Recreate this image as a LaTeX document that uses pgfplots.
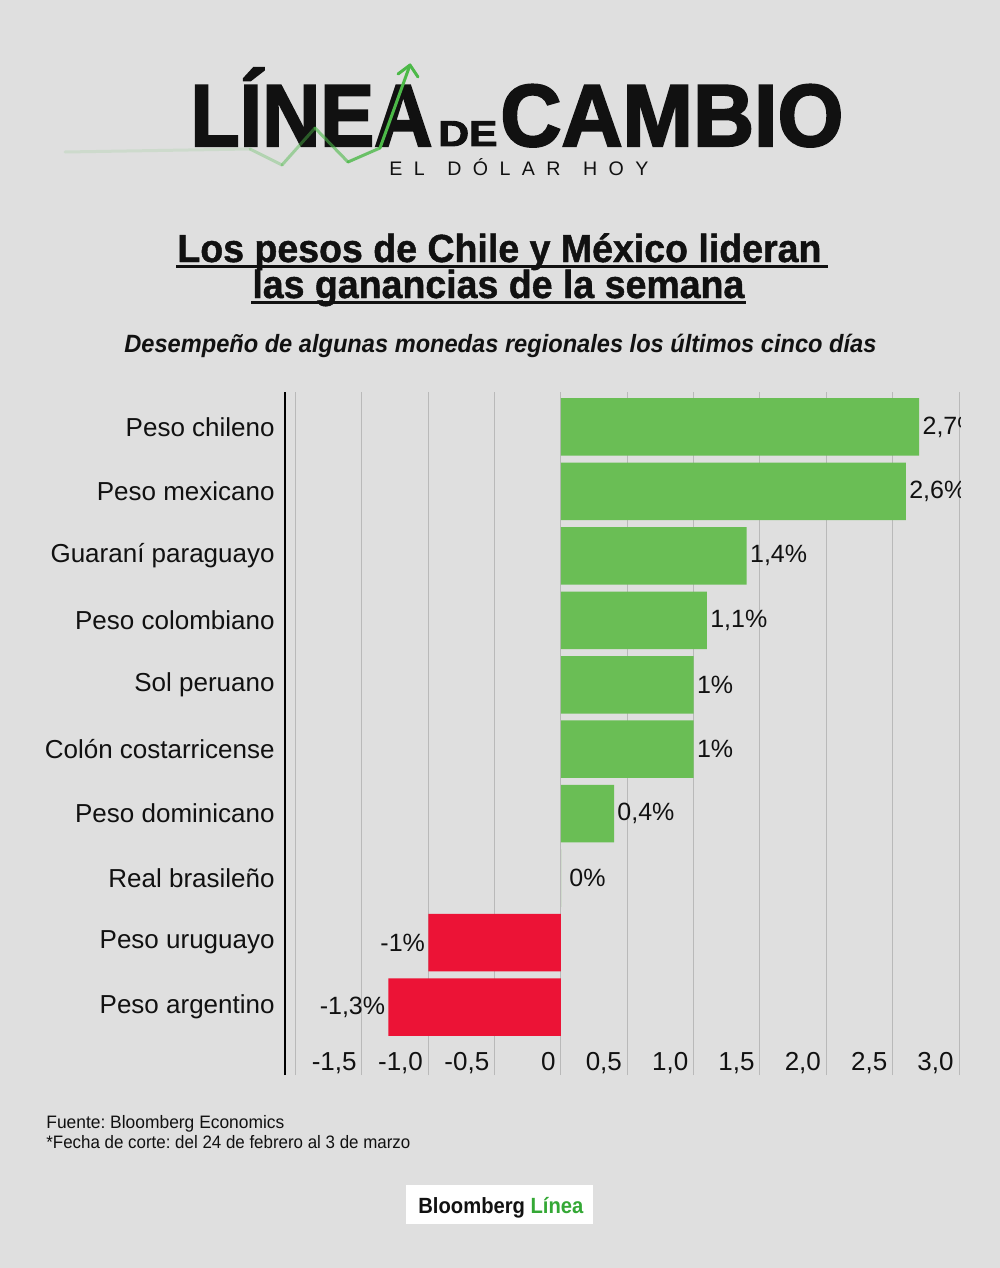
\documentclass[border=0pt]{standalone}
\usepackage{pgfplots}
\pgfplotsset{compat=1.18}
\usepackage{pgfplotstable}
\usepackage{fontspec}
\usepackage{graphicx}
\setmainfont{Liberation Sans}
\newfontfamily\heavy{Liberation Sans}[BoldFeatures={FakeBold=2.5}]
\newfontfamily\titlef{Liberation Sans}[BoldFeatures={FakeBold=1.2}]
\definecolor{bg}{RGB}{223,223,223}
\definecolor{barg}{RGB}{106,190,85}
\definecolor{barr}{RGB}{236,19,54}
\definecolor{gridc}{RGB}{185,185,185}
\definecolor{lgreen}{RGB}{76,185,72}
\definecolor{bgreen}{RGB}{52,168,53}
\definecolor{ink}{RGB}{17,17,17}
\newcommand\fw[2]{\resizebox{#1}{\height}{#2}}
\frenchspacing

\pgfplotstableread{
idx val lab
9 2.7 {2,7\%}
8 2.6 {2,6\%}
7 1.4 {1,4\%}
6 1.1 {1,1\%}
5 1.0 {1\%}
4 1.0 {1\%}
3 0.4 {0,4\%}
}\posdata
\pgfplotstableread{
idx val lab
2 0 {0\%}
}\zerodata
\pgfplotstableread{
idx val lab
1 -1.0 {-1\%}
0 -1.3 {-1,3\%}
}\negdata

\begin{document}
\begin{tikzpicture}
\begin{scope}[x=0.5pt,y=-0.5pt]
\fill[bg] (0,0) rectangle (1000,1268);
\useasboundingbox (0,0) rectangle (1000,1268);
% logo
\node[anchor=base west, inner sep=0, text=ink] at (190,146) {\fw{121pt}{\heavy\bfseries\fontsize{44}{44}\selectfont LÍNEA}};
\node[anchor=base west, inner sep=0, text=ink] at (438,146) {\fw{29.5pt}{\heavy\bfseries\fontsize{18}{18}\selectfont DE}};
\node[anchor=base west, inner sep=0, text=ink] at (500,146) {\fw{171.5pt}{\heavy\bfseries\fontsize{44}{44}\selectfont CAMBIO}};
\node[anchor=base west, inner sep=0, text=ink] at (389,175) {\makebox[129.5pt][s]{\fontsize{9.8}{10}\selectfont E\hfill L\hfill\hfill D\hfill Ó\hfill L\hfill A\hfill R\hfill\hfill H\hfill O\hfill Y}};
\draw[lgreen, line width=1.5pt, opacity=0.12, line cap=round] (65,152)--(250,149);
\draw[lgreen, line width=1.5pt, opacity=0.3, line cap=round] (250,149)--(282,165);
\draw[lgreen, line width=1.5pt, opacity=0.45, line cap=round] (282,165)--(315,128);
\draw[lgreen, line width=1.5pt, opacity=0.6, line cap=round] (315,128)--(348,162);
\draw[lgreen, line width=1.5pt, opacity=0.8, line cap=round] (348,162)--(380,148);
\draw[lgreen, line width=1.5pt, line cap=round] (380,148)--(410,65);
\draw[lgreen, line width=1.5pt, line cap=round, line join=round] (398,74)--(410,65)--(418,77);
% title
\node[anchor=base west, inner sep=0, text=ink] at (177,262) {\fw{322pt}{\titlef\bfseries\fontsize{19.6}{20}\selectfont Los pesos de Chile y México lideran}};
\fill[ink] (176,264.5) rectangle (828,267.5);
\node[anchor=base west, inner sep=0, text=ink] at (252,298) {\fw{246pt}{\titlef\bfseries\fontsize{19.6}{20}\selectfont las ganancias de la semana}};
\fill[ink] (251,300.8) rectangle (746,303.8);
\node[anchor=base west, inner sep=0, text=ink] at (124,352) {\fw{376pt}{\bfseries\itshape\fontsize{12.5}{13}\selectfont Desempeño de algunas monedas regionales los últimos cinco días}};
% footer
\node[anchor=base west, inner sep=0, text=ink] at (46,1128) {\fw{119pt}{\fontsize{9}{10}\selectfont Fuente: Bloomberg Economics}};
\node[anchor=base west, inner sep=0, text=ink] at (46,1148) {\fw{182pt}{\fontsize{9}{10}\selectfont *Fecha de corte: del 24 de febrero al 3 de marzo}};
\fill[white] (406,1185) rectangle (593,1224);
\node[anchor=base west, inner sep=0, text=ink] at (418,1213) {\fw{82.5pt}{\bfseries\fontsize{11}{11}\selectfont Bloomberg \textcolor{bgreen}{Línea}}};
\end{scope}

\begin{axis}[
  at={(142.5pt,-537.5pt)}, anchor=south west,
  scale only axis, width=337pt, height=341.5pt,
  xmin=-2.08, xmax=3, ymin=-1.055, ymax=9.543,
  xbar, bar width=28.75pt, bar shift=0pt,
  axis y line*=left, axis x line*=bottom,
  x axis line style={draw=none},
  y axis line style={line width=1pt, black},
  xtick={-2,-1.5,-1,-0.5,0,0.5,1,1.5,2,2.5,3},
  xticklabels={,{-1,5},{-1,0},{-0,5},0,{0,5},{1,0},{1,5},{2,0},{2,5},{3,0}},
  ytick={0,...,9},
  yticklabels={Peso argentino,Peso uruguayo,Real brasileño,Peso dominicano,Colón costarricense,Sol peruano,Peso colombiano,Guaraní paraguayo,Peso mexicano,Peso chileno},
  major tick length=0pt,
  xmajorgrids, grid style={gridc, line width=0.5pt},
  xticklabel style={anchor=base east, inner sep=0pt, yshift=2.5pt, xshift=-2.5pt, text=ink, font=\fontsize{13}{15}\selectfont},
  yticklabel style={anchor=east, inner sep=0pt, xshift=-5pt, text=ink, font=\fontsize{13}{15}\selectfont},
  point meta=explicit symbolic,
  nodes near coords,
  nodes near coords style={font=\fontsize{12.5}{14}\selectfont, text=ink, inner sep=1.5pt},
  clip=false,
]
\addplot[fill=barg, draw=none, every node near coord/.append style={anchor=west}] table[x=val, y=idx, meta=lab] {\posdata};
\addplot[fill=barg, draw=none, every node near coord/.append style={anchor=west, xshift=2.5pt}] table[x=val, y=idx, meta=lab] {\zerodata};
\addplot[fill=barr, draw=none, every node near coord/.append style={anchor=east}] table[x=val, y=idx, meta=lab] {\negdata};
\end{axis}

\begin{scope}[x=0.5pt,y=-0.5pt]
\fill[bg] (961,395) rectangle (1000,525);
\end{scope}
\end{tikzpicture}
\end{document}
